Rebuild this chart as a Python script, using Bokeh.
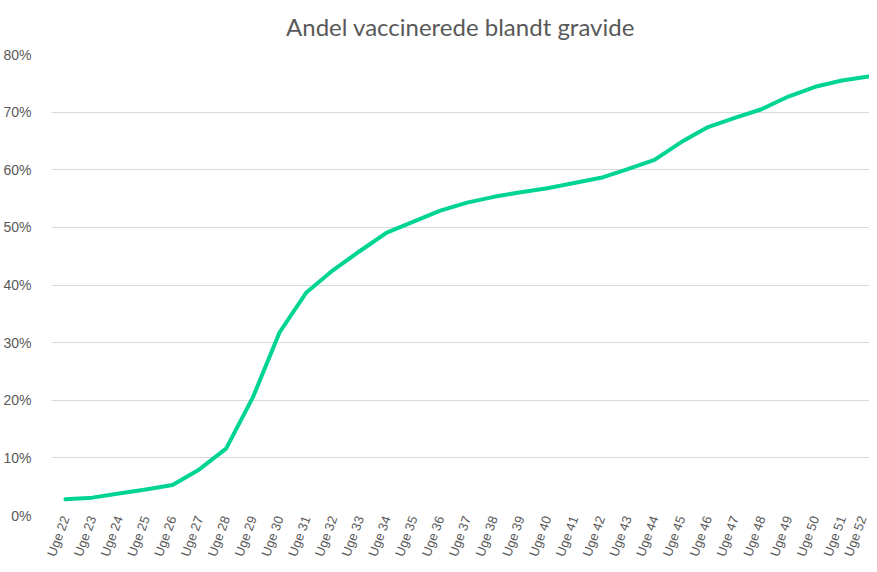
from bokeh.plotting import figure
from bokeh.models import FixedTicker, NumeralTickFormatter, Range1d
from bokeh.embed import file_html
from bokeh.resources import INLINE

weeks = ["Uge %d" % w for w in range(22, 53)]
share = [0.028, 0.031, 0.038, 0.045, 0.053, 0.080, 0.116, 0.205, 0.318, 0.387,
         0.426, 0.459, 0.491, 0.510, 0.529, 0.543, 0.553, 0.561, 0.568, 0.577,
         0.586, 0.601, 0.617, 0.648, 0.674, 0.690, 0.705, 0.727, 0.744, 0.755, 0.762]
y_ticks = [0.0, 0.1, 0.2, 0.3, 0.4, 0.5, 0.6, 0.7, 0.8]

idx = list(range(len(weeks)))

p = figure(width=869, height=564, output_backend="svg", toolbar_location=None,
           x_range=Range1d(-0.52, 30.03), y_range=Range1d(0, 0.8),
           min_border_left=0, min_border_right=0, min_border_top=0, min_border_bottom=0)

p.title.text = "Andel vaccinerede blandt gravide"
p.title.align = "center"
p.title.vertical_align = "top"
p.title.text_font = "Lato"
p.title.text_font_style = "normal"
p.title.text_font_size = "24px"
p.title.text_color = "#595959"
p.title.standoff = 23

p.line(idx, share, line_color="#00d492", line_width=4, line_join="round", line_cap="round")

p.outline_line_color = None
p.background_fill_color = "white"
p.border_fill_color = "white"

p.xgrid.grid_line_color = None
p.ygrid.grid_line_color = "#d9d9d9"
p.ygrid.grid_line_width = 1

p.yaxis.ticker = FixedTicker(ticks=y_ticks)
p.yaxis.formatter = NumeralTickFormatter(format="0%")
p.xaxis.ticker = FixedTicker(ticks=idx)
p.xaxis.major_label_overrides = {i: w for i, w in enumerate(weeks)}
p.xaxis.major_label_orientation = 1.22

for ax in (p.xaxis, p.yaxis):
    ax.axis_line_color = None
    ax.major_tick_line_color = None
    ax.minor_tick_line_color = None
    ax.major_tick_out = 0
    ax.major_tick_in = 0
    ax.major_label_text_color = "#595959"
    ax.major_label_text_font = "Liberation Sans"
p.yaxis.major_label_text_font_size = "14px"
p.xaxis.major_label_text_font_size = "13px"
p.yaxis.major_label_standoff = 20
p.xaxis.major_label_standoff = 1

open("out.html", "w").write(file_html(p, INLINE))
